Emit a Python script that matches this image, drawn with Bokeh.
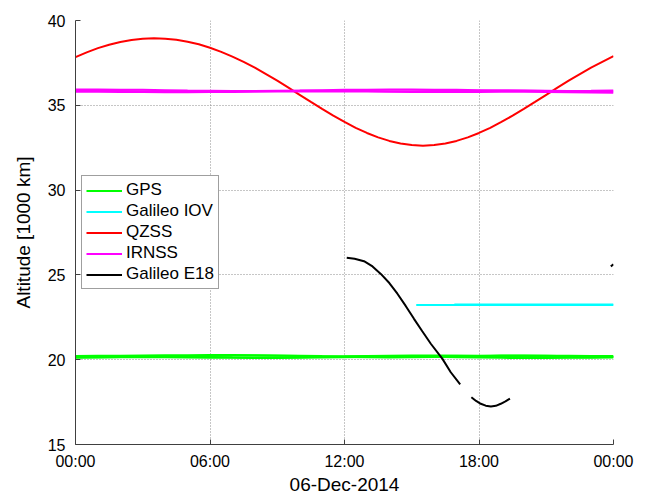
from bokeh.plotting import figure
from bokeh.models import Range1d, FixedTicker, Legend, LegendItem
from bokeh.embed import file_html
from bokeh.resources import INLINE

# ---------------- data (hours of 06-Dec-2014, altitude in 1000 km) ----------------
hours = [0, 1, 2, 3, 4, 5, 6, 7, 8, 9, 10, 11, 12, 13, 14, 15, 16, 17, 18, 19, 20, 21, 22, 23, 24]

gps_1 = [20.22, 20.23, 20.24, 20.25, 20.26, 20.26, 20.27, 20.27, 20.26, 20.25, 20.24, 20.22, 20.21,
         20.20, 20.20, 20.21, 20.22, 20.23, 20.24, 20.25, 20.25, 20.24, 20.23, 20.22, 20.22]
gps_2 = [20.15, 20.15, 20.16, 20.18, 20.20, 20.22, 20.24, 20.25, 20.25, 20.24, 20.22, 20.19, 20.16,
         20.14, 20.13, 20.14, 20.16, 20.19, 20.21, 20.23, 20.24, 20.23, 20.21, 20.18, 20.16]
gps_3 = [20.12, 20.13, 20.14, 20.14, 20.14, 20.13, 20.12, 20.11, 20.10, 20.10, 20.11, 20.13, 20.15,
         20.17, 20.18, 20.18, 20.17, 20.15, 20.13, 20.11, 20.10, 20.10, 20.11, 20.12, 20.13]
gps_4 = [20.19, 20.20, 20.21, 20.21, 20.20, 20.18, 20.16, 20.14, 20.13, 20.13, 20.15, 20.17, 20.19,
         20.22, 20.24, 20.25, 20.25, 20.24, 20.22, 20.19, 20.17, 20.15, 20.14, 20.15, 20.17]

iov_1_t = [15.2, 24.0]
iov_1 = [23.22, 23.22]
iov_2_t = [16.9, 24.0]
iov_2 = [23.25, 23.25]

qzss_t = [0.0, 0.5, 1.0, 1.5, 2.0, 2.5, 3.0, 3.5, 4.0, 4.5, 5.0, 5.5, 6.0, 6.5, 7.0, 7.5, 8.0, 8.5,
          9.0, 9.5, 10.0, 10.5, 11.0, 11.5, 12.0, 12.5, 13.0, 13.5, 14.0, 14.5, 15.0, 15.5, 16.0,
          16.5, 17.0, 17.5, 18.0, 18.5, 19.0, 19.5, 20.0, 20.5, 21.0, 21.5, 22.0, 22.5, 23.0, 23.5, 24.0]
qzss = [37.84, 38.12, 38.37, 38.57, 38.73, 38.85, 38.92, 38.95, 38.93, 38.86, 38.75, 38.60, 38.39,
        38.15, 37.87, 37.56, 37.22, 36.84, 36.45, 36.04, 35.62, 35.20, 34.79, 34.39, 34.02, 33.67,
        33.37, 33.11, 32.90, 32.75, 32.66, 32.62, 32.66, 32.75, 32.90, 33.11, 33.37, 33.67, 34.02,
        34.39, 34.79, 35.20, 35.62, 36.04, 36.45, 36.84, 37.22, 37.56, 37.90]

irnss_1 = [35.93, 35.93, 35.92, 35.91, 35.89, 35.87, 35.86, 35.85, 35.85, 35.86, 35.87, 35.89, 35.91,
           35.92, 35.93, 35.93, 35.92, 35.91, 35.89, 35.87, 35.86, 35.85, 35.85, 35.86, 35.88]
irnss_2 = [35.80, 35.80, 35.79, 35.78, 35.77, 35.77, 35.78, 35.79, 35.80, 35.81, 35.82, 35.82, 35.82,
           35.81, 35.80, 35.79, 35.78, 35.78, 35.79, 35.80, 35.80, 35.79, 35.77, 35.75, 35.74]
irnss_3 = [35.86, 35.85, 35.84, 35.83, 35.83, 35.82, 35.82, 35.83, 35.84, 35.85, 35.86, 35.86, 35.85,
           35.84, 35.83, 35.83, 35.84, 35.85, 35.86, 35.87, 35.87, 35.86, 35.84, 35.82, 35.81]

e18_a_t = [12.10, 12.45, 12.87, 13.25, 13.62, 14.00, 14.36, 14.73, 15.10, 15.47, 15.85, 16.37, 16.74, 17.16]
e18_a = [26.01, 25.95, 25.81, 25.50, 25.06, 24.52, 23.89, 23.17, 22.41, 21.68, 20.94, 20.05, 19.26, 18.54]
e18_b_t = [17.66, 17.87, 18.08, 18.30, 18.53, 18.75, 18.97, 19.18, 19.38]
e18_b = [17.79, 17.57, 17.40, 17.29, 17.24, 17.28, 17.40, 17.54, 17.71]
e18_c_t = [23.88, 24.0]
e18_c = [25.50, 25.62]

x_ticks = [0, 6, 12, 18, 24]
x_tick_labels = ["00:00", "06:00", "12:00", "18:00", "00:00"]
y_ticks = [15, 20, 25, 30, 35, 40]

series_names = ["GPS", "Galileo IOV", "QZSS", "IRNSS", "Galileo E18"]
series_colors = ["#00ff00", "#00ffff", "#ff0000", "#ff00ff", "#000000"]

FONT = "Liberation Sans"

p = figure(width=648, height=497, output_backend="svg", toolbar_location=None,
           x_range=Range1d(0, 24), y_range=Range1d(15, 40),
           min_border_left=75, min_border_right=35, min_border_top=20, min_border_bottom=53)
p.outline_line_color = None
p.background_fill_color = "white"

lw = 2
gps_r = [p.line(hours, g, line_color=series_colors[0], line_width=lw) for g in (gps_1, gps_2, gps_3, gps_4)]
iov_r = [p.line(iov_1_t, iov_1, line_color=series_colors[1], line_width=lw),
         p.line(iov_2_t, iov_2, line_color=series_colors[1], line_width=lw)]
qz_r = p.line(qzss_t, qzss, line_color=series_colors[2], line_width=lw)
ir_r = [p.line(hours, v, line_color=series_colors[3], line_width=lw) for v in (irnss_1, irnss_2, irnss_3)]
e18_r = [p.line(e18_a_t, e18_a, line_color=series_colors[4], line_width=lw),
         p.line(e18_b_t, e18_b, line_color=series_colors[4], line_width=lw),
         p.line(e18_c_t, e18_c, line_color=series_colors[4], line_width=lw)]

# axes
p.xaxis.ticker = FixedTicker(ticks=x_ticks)
p.xaxis.major_label_overrides = {t: l for t, l in zip(x_ticks, x_tick_labels)}
p.yaxis.ticker = FixedTicker(ticks=y_ticks)
for ax in (p.xaxis[0], p.yaxis[0]):
    ax.axis_line_color = "#404040"
    ax.axis_line_width = 1
    ax.major_tick_line_color = "#404040"
    ax.major_tick_in = 5
    ax.major_tick_out = 0
    ax.minor_tick_line_color = None
    ax.major_label_text_font = FONT
    ax.major_label_text_font_size = "16px"
    ax.major_label_text_color = "black"
    ax.axis_label_text_font = FONT
    ax.axis_label_text_font_style = "normal"
    ax.axis_label_text_color = "black"
p.xaxis.axis_label = "06-Dec-2014"
p.xaxis.axis_label_text_font_size = "19px"
p.xaxis.major_label_standoff = 8
p.xaxis.axis_label_standoff = 1
p.yaxis.axis_label = "Altitude [1000 km]"
p.yaxis.axis_label_text_font_size = "19px"
p.yaxis.major_label_standoff = 10
p.yaxis.axis_label_standoff = 11

p.xgrid.ticker = FixedTicker(ticks=x_ticks)
p.ygrid.ticker = FixedTicker(ticks=y_ticks)
for g in (p.xgrid[0], p.ygrid[0]):
    g.grid_line_color = "#8c8c8c"
    g.grid_line_dash = "1 2"
    g.grid_line_width = 1

legend = Legend(items=[
    LegendItem(label=series_names[0], renderers=[gps_r[0]]),
    LegendItem(label=series_names[1], renderers=[iov_r[0]]),
    LegendItem(label=series_names[2], renderers=[qz_r]),
    LegendItem(label=series_names[3], renderers=[ir_r[0]]),
    LegendItem(label=series_names[4], renderers=[e18_r[0]]),
], location=(6, 155))
legend.label_text_font = FONT
legend.label_text_font_size = "17px"
legend.label_text_color = "black"
legend.glyph_width = 36
legend.glyph_height = 19
legend.label_height = 19
legend.spacing = 1
legend.padding = 4
legend.margin = 0
legend.label_standoff = 4
legend.border_line_color = "#404040"
legend.border_line_width = 1
legend.background_fill_alpha = 1
p.add_layout(legend, "center")

open("out.html", "w").write(file_html(p, INLINE))
